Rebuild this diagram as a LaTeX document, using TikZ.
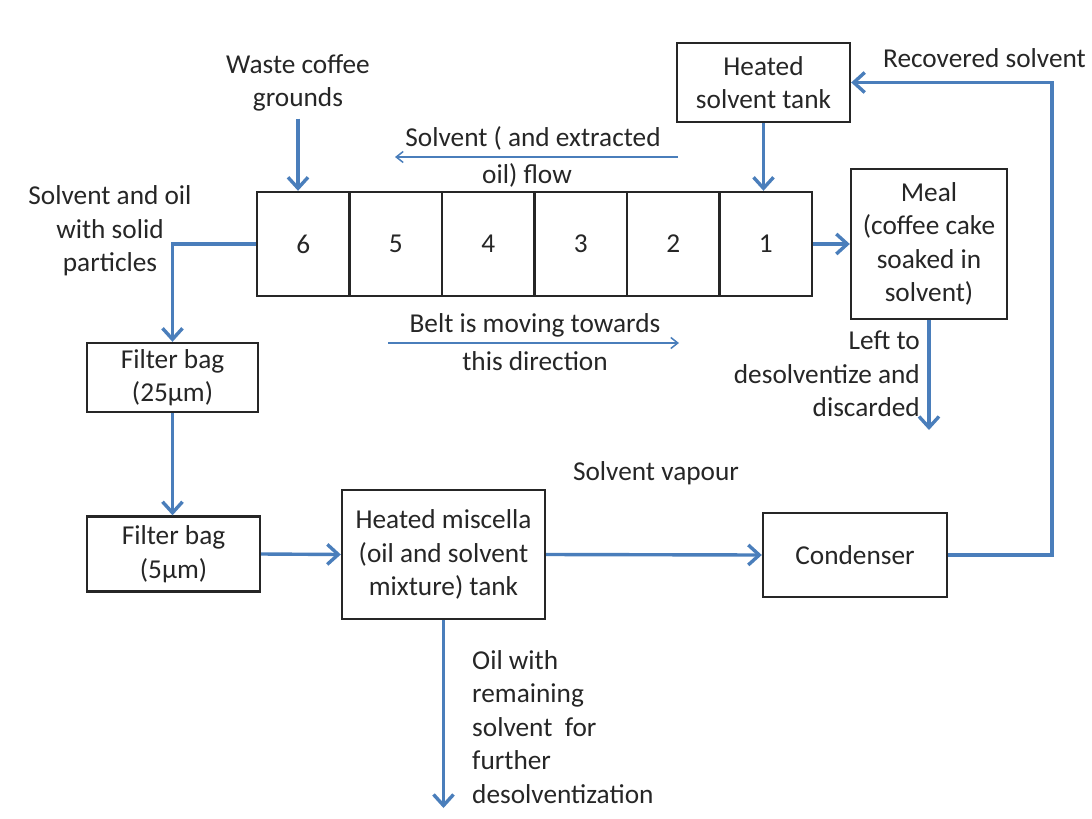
\documentclass[tikz,border=0pt]{standalone}
\usepackage{fontspec}
\setmainfont{Carlito}
\usepackage{tikz}
\usetikzlibrary{arrows.meta}
\definecolor{pblued}{HTML}{4A7EBB}
\definecolor{pinkd}{HTML}{262626}
\colorlet{dblue}{pblued}
\colorlet{ink}{pinkd}
\newcommand{\lblfont}{\fontsize{27.3}{33.5}\selectfont}
\tikzset{
  % plain boxed unit, black frame
  box/.style   = {rectangle, draw=black!85, line width=2.4pt, align=center,
                  inner sep=0pt, font=\lblfont, text=ink},
  cell/.style  = {box, minimum width=92.5pt, minimum height=104pt},
  arr/.style   = {-{Straight Barb[length=11pt,width=20pt]}, line width=3.4pt, dblue},
  thin lane/.style = {-{Straight Barb[length=7pt,width=11pt]}, line width=1.5pt, dblue},
  lbl/.style   = {font=\lblfont, text=ink, align=center, inner sep=1pt},
}

\begin{document}
\begin{tikzpicture}[x=1pt,y=-1pt]
\useasboundingbox (0,0) rectangle (1092,819);
% belt
\foreach \n [count=\i] in {6,5,4,3,2,1}
  \node[cell] (cell\n) at ({257+92.5*(\i-0.5)},244) {\n};
% units
\node[box, minimum width=173pt, minimum height=79pt]  (tank)      at (763.5,82.5) {Heated\\solvent tank};
\node[box, minimum width=156pt, minimum height=150pt] (meal)      at (929,244)    {Meal\\(coffee cake\\soaked in\\solvent)};
\node[box, minimum width=171pt, minimum height=69pt]  (filterA)   at (172.5,377.5) {Filter bag\\(25µm)};
\node[box, minimum width=173pt, minimum height=75pt]  (filterB)   at (173.5,554)  {Filter bag\\(5µm)};
\node[box, minimum width=203pt, minimum height=129pt] (miscella)  at (443.5,554.5) {Heated miscella\\(oil and solvent\\mixture) tank};
\node[box, minimum width=184pt, minimum height=84pt]  (condenser) at (855,555)    {Condenser};
% labels
\node[lbl] (waste)    at (298,83)  {Waste coffee\\grounds};
\node[lbl] (sideout)  at (110,231) {Solvent and oil\\with solid\\particles};
\node[lbl] (flowtop)  at (533,138) {Solvent ( and extracted};
\node[lbl] (flowbot)  at (527,175) {oil) flow};
\node[lbl] (belttop)  at (535,325) {Belt is moving towards};
\node[lbl] (beltbot)  at (535,361) {this direction};
\node[lbl, anchor=west] (recov) at (882,58) {Recovered solvent};
\node[lbl, align=right, anchor=east] (leftnote) at (921,374) {Left to\\desolventize and\\discarded};
\node[lbl] (vapour)   at (656,473) {Solvent vapour};
\node[lbl, align=left, anchor=west] (oilnote) at (471,727)
  {Oil with\\remaining\\solvent\ \ for\\further\\desolventization};
% free ends
\coordinate (flowR)   at (678,157);
\coordinate (flowL)   at (395,157);
\coordinate (beltL)   at (388,343);
\coordinate (beltR)   at (679,343);
\coordinate (discard) at (929,430);
\coordinate (oilout)  at (443.5,808);
\coordinate (ret)     at (1052,0);
% flows
\draw[arr, shorten <=6pt] (waste.south) -- (waste.south |- cell6.north);
\draw[arr] (tank.south) -- (tank.south |- cell1.north);
\draw[arr] (cell1.east) -- (meal.west);
\draw[arr] (meal.south) -- (discard);
\draw[arr] (cell6.west) -| (filterA.north);
\draw[arr] (filterA.south) -- (filterA.south |- filterB.north);
\draw[arr] (filterB.east) -- (miscella.west);
\draw[arr] (miscella.east) -- (condenser.west);
\draw[arr] (miscella.south) -- (oilout);
\draw[arr] (condenser.east) -| (ret |- tank.east) -- (tank.east);
% direction hints
\draw[thin lane] (flowR) -- (flowL);
\draw[thin lane] (beltL) -- (beltR);
\end{tikzpicture}
\end{document}
